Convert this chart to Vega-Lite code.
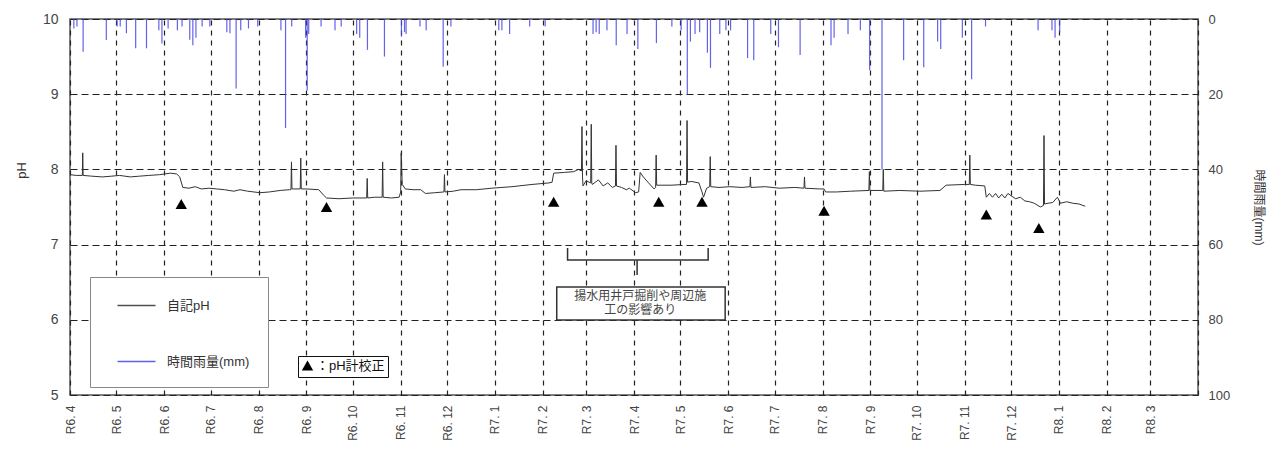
{
  "$schema": "https://vega.github.io/schema/vega-lite/v6.json",
  "width": 1128,
  "height": 376,
  "autosize": {"type": "none"},
  "padding": {"left": 70, "top": 19, "right": 82, "bottom": 55},
  "background": "white",
  "config": {
    "font": "Liberation Sans, Noto Sans CJK JP, sans-serif",
    "view": {"stroke": "#555", "strokeWidth": 1.5},
    "axis": {"labelColor": "#444", "titleColor": "#333", "titleFontWeight": "normal"}
  },
  "datasets": {
    "rain": [
      {"t":"2024-04-03T12:00","mm":2.5},{"t":"2024-04-05T12:00","mm":2},{"t":"2024-04-09T12:00","mm":8.7},{"t":"2024-04-24T12:00","mm":5.6},
      {"t":"2024-05-01T12:00","mm":2},{"t":"2024-05-03T12:00","mm":2},{"t":"2024-05-07T12:00","mm":3.8},{"t":"2024-05-13T12:00","mm":7.8},
      {"t":"2024-05-20T12:00","mm":7.8},{"t":"2024-05-28T12:00","mm":3},{"t":"2024-05-30T12:00","mm":6.5},{"t":"2024-06-03T12:00","mm":2.5},
      {"t":"2024-06-09T12:00","mm":3},{"t":"2024-06-12T12:00","mm":2},{"t":"2024-06-17T12:00","mm":5.5},{"t":"2024-06-19T12:00","mm":7},
      {"t":"2024-06-21T12:00","mm":5},{"t":"2024-06-25T12:00","mm":2},{"t":"2024-06-30T12:00","mm":2},{"t":"2024-07-11T12:00","mm":3.5},
      {"t":"2024-07-13T12:00","mm":3.8},{"t":"2024-07-17T12:00","mm":18.5},{"t":"2024-07-20T12:00","mm":3},{"t":"2024-07-25T12:00","mm":2.5},
      {"t":"2024-07-31T12:00","mm":2},{"t":"2024-08-15T12:00","mm":3},{"t":"2024-08-18T12:00","mm":29},{"t":"2024-08-22T12:00","mm":2},
      {"t":"2024-08-31T12:00","mm":5},{"t":"2024-09-01T12:00","mm":19},{"t":"2024-09-02T12:00","mm":4},{"t":"2024-09-10T12:00","mm":2},
      {"t":"2024-09-19T12:00","mm":3},{"t":"2024-09-23T12:00","mm":2},{"t":"2024-10-03T12:00","mm":4},{"t":"2024-10-05T12:00","mm":5},
      {"t":"2024-10-10T12:00","mm":8.2},{"t":"2024-10-21T12:00","mm":10},{"t":"2024-11-01T12:00","mm":4.7},{"t":"2024-11-03T12:00","mm":3.5},
      {"t":"2024-11-04T12:00","mm":4},{"t":"2024-11-13T12:00","mm":2},{"t":"2024-11-17T12:00","mm":3},{"t":"2024-11-28T12:00","mm":12.7},
      {"t":"2024-12-03T12:00","mm":2},{"t":"2025-01-03T12:00","mm":3},{"t":"2025-01-05T12:00","mm":3},{"t":"2025-01-10T12:00","mm":4},
      {"t":"2025-01-23T12:00","mm":2},{"t":"2025-02-02T12:00","mm":2},{"t":"2025-03-05T12:00","mm":4},{"t":"2025-03-07T12:00","mm":3.5},
      {"t":"2025-03-09T12:00","mm":4},{"t":"2025-03-14T12:00","mm":3},{"t":"2025-03-20T12:00","mm":7},{"t":"2025-03-27T12:00","mm":4},
      {"t":"2025-04-03T12:00","mm":8},{"t":"2025-04-15T12:00","mm":6.4},{"t":"2025-04-25T12:00","mm":2},{"t":"2025-05-01T12:00","mm":3},
      {"t":"2025-05-05T12:00","mm":20},{"t":"2025-05-07T12:00","mm":6},{"t":"2025-05-10T12:00","mm":4},{"t":"2025-05-13T12:00","mm":3.5},
      {"t":"2025-05-18T12:00","mm":9},{"t":"2025-05-20T12:00","mm":13},{"t":"2025-05-26T12:00","mm":4},{"t":"2025-05-30T12:00","mm":3},
      {"t":"2025-06-02T12:00","mm":3},{"t":"2025-06-13T12:00","mm":10.4},{"t":"2025-06-17T12:00","mm":11},{"t":"2025-06-28T12:00","mm":4},
      {"t":"2025-07-03T12:00","mm":7.5},{"t":"2025-07-17T12:00","mm":9.6},{"t":"2025-08-06T12:00","mm":7},{"t":"2025-08-08T12:00","mm":5},
      {"t":"2025-08-17T12:00","mm":4},{"t":"2025-08-25T12:00","mm":3},{"t":"2025-08-31T12:00","mm":13.6},{"t":"2025-09-08T12:00","mm":40},
      {"t":"2025-09-22T12:00","mm":11},{"t":"2025-10-05T12:00","mm":12.8},{"t":"2025-10-14T12:00","mm":6},{"t":"2025-10-16T12:00","mm":8},
      {"t":"2025-10-30T12:00","mm":5},{"t":"2025-11-05T12:00","mm":16},{"t":"2025-11-14T12:00","mm":2},{"t":"2025-12-18T12:00","mm":3},
      {"t":"2025-12-27T12:00","mm":3},{"t":"2025-12-29T12:00","mm":5},{"t":"2026-01-01T12:00","mm":3.5}
    ],
    "ph": [
      {"t":"2024-04-01T00:00","ph":7.93},{"t":"2024-04-05T00:00","ph":7.92},{"t":"2024-04-09T00:00","ph":7.92},{"t":"2024-04-09T06:00","ph":8.22},
      {"t":"2024-04-09T12:00","ph":7.92},{"t":"2024-04-15T00:00","ph":7.91},{"t":"2024-04-22T00:00","ph":7.9},{"t":"2024-04-28T00:00","ph":7.91},
      {"t":"2024-05-03T00:00","ph":7.92},{"t":"2024-05-10T00:00","ph":7.9},{"t":"2024-05-16T00:00","ph":7.91},{"t":"2024-05-22T00:00","ph":7.92},
      {"t":"2024-05-29T00:00","ph":7.93},{"t":"2024-06-05T00:00","ph":7.95},{"t":"2024-06-09T00:00","ph":7.94},{"t":"2024-06-11T00:00","ph":7.9},
      {"t":"2024-06-13T00:00","ph":7.76},{"t":"2024-06-17T00:00","ph":7.75},{"t":"2024-06-21T00:00","ph":7.77},{"t":"2024-06-25T00:00","ph":7.74},
      {"t":"2024-06-30T00:00","ph":7.75},{"t":"2024-07-05T00:00","ph":7.74},{"t":"2024-07-10T00:00","ph":7.73},{"t":"2024-07-16T00:00","ph":7.71},
      {"t":"2024-07-20T00:00","ph":7.73},{"t":"2024-07-25T00:00","ph":7.71},{"t":"2024-08-02T00:00","ph":7.69},{"t":"2024-08-08T00:00","ph":7.7},
      {"t":"2024-08-15T00:00","ph":7.72},{"t":"2024-08-21T00:00","ph":7.73},{"t":"2024-08-22T00:00","ph":7.73},{"t":"2024-08-22T08:00","ph":8.1},
      {"t":"2024-08-22T16:00","ph":7.74},{"t":"2024-08-28T00:00","ph":7.74},{"t":"2024-08-28T08:00","ph":8.15},{"t":"2024-08-28T16:00","ph":7.74},
      {"t":"2024-09-01T00:00","ph":7.74},{"t":"2024-09-09T00:00","ph":7.73},{"t":"2024-09-12T00:00","ph":7.66},{"t":"2024-09-14T00:00","ph":7.62},
      {"t":"2024-09-22T00:00","ph":7.61},{"t":"2024-10-01T00:00","ph":7.62},{"t":"2024-10-10T00:00","ph":7.62},{"t":"2024-10-10T08:00","ph":7.88},
      {"t":"2024-10-10T16:00","ph":7.62},{"t":"2024-10-15T00:00","ph":7.63},{"t":"2024-10-20T00:00","ph":7.63},{"t":"2024-10-20T08:00","ph":8.1},
      {"t":"2024-10-20T16:00","ph":7.63},{"t":"2024-10-26T00:00","ph":7.62},{"t":"2024-10-31T00:00","ph":7.63},{"t":"2024-11-01T00:00","ph":7.7},
      {"t":"2024-11-01T08:00","ph":8.22},{"t":"2024-11-02T00:00","ph":7.8},{"t":"2024-11-04T00:00","ph":7.74},{"t":"2024-11-09T00:00","ph":7.73},
      {"t":"2024-11-14T00:00","ph":7.73},{"t":"2024-11-17T00:00","ph":7.68},{"t":"2024-11-23T00:00","ph":7.69},{"t":"2024-11-29T00:00","ph":7.7},
      {"t":"2024-11-29T08:00","ph":7.93},{"t":"2024-11-29T16:00","ph":7.7},{"t":"2024-12-05T00:00","ph":7.71},{"t":"2024-12-10T00:00","ph":7.73},
      {"t":"2024-12-20T00:00","ph":7.73},{"t":"2024-12-30T00:00","ph":7.75},{"t":"2025-01-12T00:00","ph":7.77},{"t":"2025-01-25T00:00","ph":7.8},
      {"t":"2025-02-05T00:00","ph":7.82},{"t":"2025-02-07T00:00","ph":7.83},{"t":"2025-02-08T00:00","ph":7.95},{"t":"2025-02-15T00:00","ph":7.96},
      {"t":"2025-02-21T00:00","ph":7.97},{"t":"2025-02-24T00:00","ph":8.0},{"t":"2025-02-26T00:00","ph":7.98},{"t":"2025-02-26T08:00","ph":8.57},
      {"t":"2025-02-26T16:00","ph":7.9},{"t":"2025-02-27T00:00","ph":7.78},{"t":"2025-03-01T00:00","ph":7.85},{"t":"2025-03-04T00:00","ph":7.82},
      {"t":"2025-03-04T08:00","ph":8.6},{"t":"2025-03-04T16:00","ph":7.82},{"t":"2025-03-05T00:00","ph":7.8},{"t":"2025-03-07T00:00","ph":7.83},
      {"t":"2025-03-09T00:00","ph":7.86},{"t":"2025-03-12T00:00","ph":7.78},{"t":"2025-03-15T00:00","ph":7.82},{"t":"2025-03-18T00:00","ph":7.76},
      {"t":"2025-03-20T00:00","ph":7.78},{"t":"2025-03-20T08:00","ph":8.32},{"t":"2025-03-20T16:00","ph":7.78},{"t":"2025-03-24T00:00","ph":7.76},
      {"t":"2025-03-27T00:00","ph":7.73},{"t":"2025-03-29T00:00","ph":7.75},{"t":"2025-04-02T00:00","ph":7.69},{"t":"2025-04-04T00:00","ph":7.7},
      {"t":"2025-04-05T00:00","ph":7.96},{"t":"2025-04-07T00:00","ph":7.9},{"t":"2025-04-10T00:00","ph":7.83},{"t":"2025-04-14T00:00","ph":7.74},
      {"t":"2025-04-15T00:00","ph":7.76},{"t":"2025-04-15T08:00","ph":8.19},{"t":"2025-04-15T16:00","ph":7.79},{"t":"2025-04-25T00:00","ph":7.79},
      {"t":"2025-05-04T00:00","ph":7.8},{"t":"2025-05-05T00:00","ph":7.8},{"t":"2025-05-05T08:00","ph":8.65},{"t":"2025-05-05T16:00","ph":7.83},
      {"t":"2025-05-08T00:00","ph":7.84},{"t":"2025-05-13T00:00","ph":7.82},{"t":"2025-05-15T00:00","ph":7.7},{"t":"2025-05-16T00:00","ph":7.63},
      {"t":"2025-05-18T00:00","ph":7.75},{"t":"2025-05-20T00:00","ph":7.77},{"t":"2025-05-20T08:00","ph":8.17},{"t":"2025-05-20T16:00","ph":7.77},
      {"t":"2025-05-26T00:00","ph":7.76},{"t":"2025-06-02T00:00","ph":7.77},{"t":"2025-06-10T00:00","ph":7.76},{"t":"2025-06-15T00:00","ph":7.77},
      {"t":"2025-06-15T08:00","ph":7.9},{"t":"2025-06-15T16:00","ph":7.76},{"t":"2025-06-25T00:00","ph":7.77},{"t":"2025-07-04T00:00","ph":7.75},
      {"t":"2025-07-14T00:00","ph":7.76},{"t":"2025-07-20T00:00","ph":7.75},{"t":"2025-07-20T08:00","ph":7.9},{"t":"2025-07-20T16:00","ph":7.75},
      {"t":"2025-07-30T00:00","ph":7.74},{"t":"2025-08-02T00:00","ph":7.74},{"t":"2025-08-03T00:00","ph":7.7},{"t":"2025-08-10T00:00","ph":7.7},
      {"t":"2025-08-19T00:00","ph":7.71},{"t":"2025-08-31T00:00","ph":7.72},{"t":"2025-08-31T08:00","ph":7.97},{"t":"2025-08-31T16:00","ph":7.72},
      {"t":"2025-09-09T00:00","ph":7.72},{"t":"2025-09-09T08:00","ph":8.0},{"t":"2025-09-09T16:00","ph":7.71},{"t":"2025-09-20T00:00","ph":7.72},
      {"t":"2025-10-03T00:00","ph":7.71},{"t":"2025-10-16T00:00","ph":7.72},{"t":"2025-10-20T00:00","ph":7.79},{"t":"2025-11-01T00:00","ph":7.8},
      {"t":"2025-11-04T00:00","ph":7.8},{"t":"2025-11-04T08:00","ph":8.19},{"t":"2025-11-04T16:00","ph":7.8},{"t":"2025-11-08T00:00","ph":7.79},
      {"t":"2025-11-14T00:00","ph":7.78},{"t":"2025-11-15T00:00","ph":7.63},{"t":"2025-11-17T00:00","ph":7.68},{"t":"2025-11-19T00:00","ph":7.63},
      {"t":"2025-11-21T00:00","ph":7.68},{"t":"2025-11-23T00:00","ph":7.62},{"t":"2025-11-25T00:00","ph":7.67},{"t":"2025-11-27T00:00","ph":7.62},
      {"t":"2025-11-29T00:00","ph":7.68},{"t":"2025-12-01T00:00","ph":7.65},{"t":"2025-12-04T00:00","ph":7.61},{"t":"2025-12-07T00:00","ph":7.63},
      {"t":"2025-12-10T00:00","ph":7.58},{"t":"2025-12-13T00:00","ph":7.57},{"t":"2025-12-16T00:00","ph":7.55},{"t":"2025-12-20T00:00","ph":7.5},
      {"t":"2025-12-22T00:00","ph":7.52},{"t":"2025-12-22T08:00","ph":8.45},{"t":"2025-12-22T16:00","ph":7.54},{"t":"2025-12-25T00:00","ph":7.55},
      {"t":"2025-12-28T00:00","ph":7.56},{"t":"2025-12-31T00:00","ph":7.63},{"t":"2026-01-02T00:00","ph":7.55},{"t":"2026-01-06T00:00","ph":7.57},
      {"t":"2026-01-10T00:00","ph":7.55},{"t":"2026-01-14T00:00","ph":7.54},{"t":"2026-01-18T00:00","ph":7.51}
    ],
    "cal": [
      {"t":"2024-06-12T00:00","ph":7.54},{"t":"2024-09-14T00:00","ph":7.5},{"t":"2025-02-08T00:00","ph":7.57},{"t":"2025-04-17T00:00","ph":7.57},
      {"t":"2025-05-15T00:00","ph":7.57},{"t":"2025-08-02T00:00","ph":7.45},{"t":"2025-11-15T00:00","ph":7.4},{"t":"2025-12-19T00:00","ph":7.22}
    ],
    "bracket": [
      {"g":"b","i":0,"t":"2025-02-17T00:00","ph":6.955},{"g":"b","i":1,"t":"2025-02-17T00:00","ph":6.795},
      {"g":"b","i":2,"t":"2025-05-19T00:00","ph":6.795},{"g":"b","i":3,"t":"2025-05-19T00:00","ph":6.955},
      {"g":"c","i":0,"t":"2025-04-03T00:00","ph":6.795},{"g":"c","i":1,"t":"2025-04-03T00:00","ph":6.595}
    ],
    "box": [
      {"t":"2025-02-10T00:00","t2":"2025-05-30T00:00","ph":6.436,"ph2":5.997,"tc":"2025-04-05T00:00","pc":6.31,"label":"揚水用井戸掘削や周辺施\n工の影響あり"}
    ]
  },
  "encoding": {
    "x": {
      "field": "t", "type": "temporal",
      "scale": {"domain": [{"year": 2024, "month": 4, "date": 1}, {"year": 2026, "month": 4, "date": 1}]},
      "axis": {
        "title": null,
        "tickCount": {"interval": "month", "step": 1},
        "labelExpr": "datum.value >= datetime(2026,3,1) ? '' : 'R' + (year(datum.value) - 2018) + '. ' + (month(datum.value) + 1)",
        "labelAngle": 270, "labelAlign": "right", "labelBaseline": "middle",
        "labelFontSize": 12, "labelPadding": 10, "labelOverlap": false, "labelFlush": false, "labelBound": false,
        "grid": true, "gridDash": [5, 5], "gridColor": "#222", "gridWidth": 1.2,
        "domain": false, "ticks": false
      }
    }
  },
  "layer": [
    {
      "data": {"name": "rain"},
      "mark": {"type": "rule", "strokeWidth": 1.2, "opacity": 0.85},
      "encoding": {
        "y": {
          "field": "mm", "type": "quantitative",
          "scale": {"domain": [0, 100], "reverse": true, "nice": false},
          "axis": {"orient": "right", "title": "時間雨量(mm)", "values": [0, 20, 40, 60, 80, 100], "grid": false, "ticks": false, "domain": false, "labelFontSize": 13, "labelPadding": 10, "titleFontSize": 12, "titlePadding": 22}
        },
        "y2": {"datum": 0},
        "color": {"datum": "時間雨量(mm)", "type": "nominal"}
      }
    },
    {
      "encoding": {
        "y": {
          "field": "ph", "type": "quantitative",
          "scale": {"domain": [5, 10], "nice": false, "zero": false},
          "axis": {"orient": "left", "title": "pH", "titleY": 151, "values": [5, 6, 7, 8, 9, 10], "grid": true, "gridDash": [7, 4], "gridColor": "#222", "gridWidth": 1.2, "ticks": false, "domain": false, "labelFontSize": 14, "labelPadding": 12, "titleFontSize": 13, "titlePadding": 14}
        }
      },
      "layer": [
        {
          "data": {"name": "ph"},
          "mark": {"type": "line", "strokeWidth": 1, "interpolate": "linear"},
          "encoding": {
            "color": {
              "datum": "自記pH", "type": "nominal",
              "scale": {"domain": ["自記pH", "時間雨量(mm)"], "range": ["#333333", "#4646e6"]},
              "legend": {
                "title": null, "orient": "none", "legendX": 20, "legendY": 258,
                "symbolType": "M-2,0H2", "symbolSize": 361, "symbolStrokeWidth": 1.5,
                "labelFontSize": 13, "labelColor": "#333", "labelOffset": 20,
                "labelExpr": "datum.label + '\u00a0\u00a0\u00a0\u00a0\u00a0\u00a0\u00a0'",
                "padding": 18, "symbolOffset": 18, "rowPadding": 38,
                "strokeColor": "#888", "fillColor": "white"
              }
            }
          }
        },
        {
          "data": {"name": "cal"},
          "mark": {"type": "point", "filled": true, "color": "black", "size": 130, "opacity": 1},
          "encoding": {
            "shape": {
              "datum": "：pH計校正", "type": "nominal",
              "scale": {"domain": ["：pH計校正"], "range": ["triangle-up"]},
              "legend": {
                "title": null, "orient": "none", "legendX": 228, "legendY": 337,
                "symbolFillColor": "black", "symbolStrokeColor": "black", "symbolSize": 130,
                "labelFontSize": 13, "labelColor": "#111", "labelOffset": 2,
                "padding": 3, "strokeColor": "#111", "fillColor": "white"
              }
            }
          }
        },
        {
          "data": {"name": "bracket"},
          "mark": {"type": "line", "color": "#333", "strokeWidth": 1.5},
          "encoding": {
            "detail": {"field": "g", "type": "nominal"},
            "order": {"field": "i", "type": "quantitative"}
          }
        },
        {
          "data": {"name": "box"},
          "mark": {"type": "rect", "fill": "white", "stroke": "#333", "strokeWidth": 1.5},
          "encoding": {
            "x2": {"field": "t2"},
            "y2": {"field": "ph2"}
          }
        },
        {
          "data": {"name": "box"},
          "mark": {"type": "text", "fontSize": 12, "color": "#444", "lineBreak": "\n", "lineHeight": 14, "align": "center", "baseline": "middle"},
          "encoding": {
            "x": {"field": "tc", "type": "temporal"},
            "y": {"field": "pc", "type": "quantitative"},
            "text": {"field": "label"}
          }
        }
      ]
    }
  ],
  "resolve": {"scale": {"y": "independent"}}
}
